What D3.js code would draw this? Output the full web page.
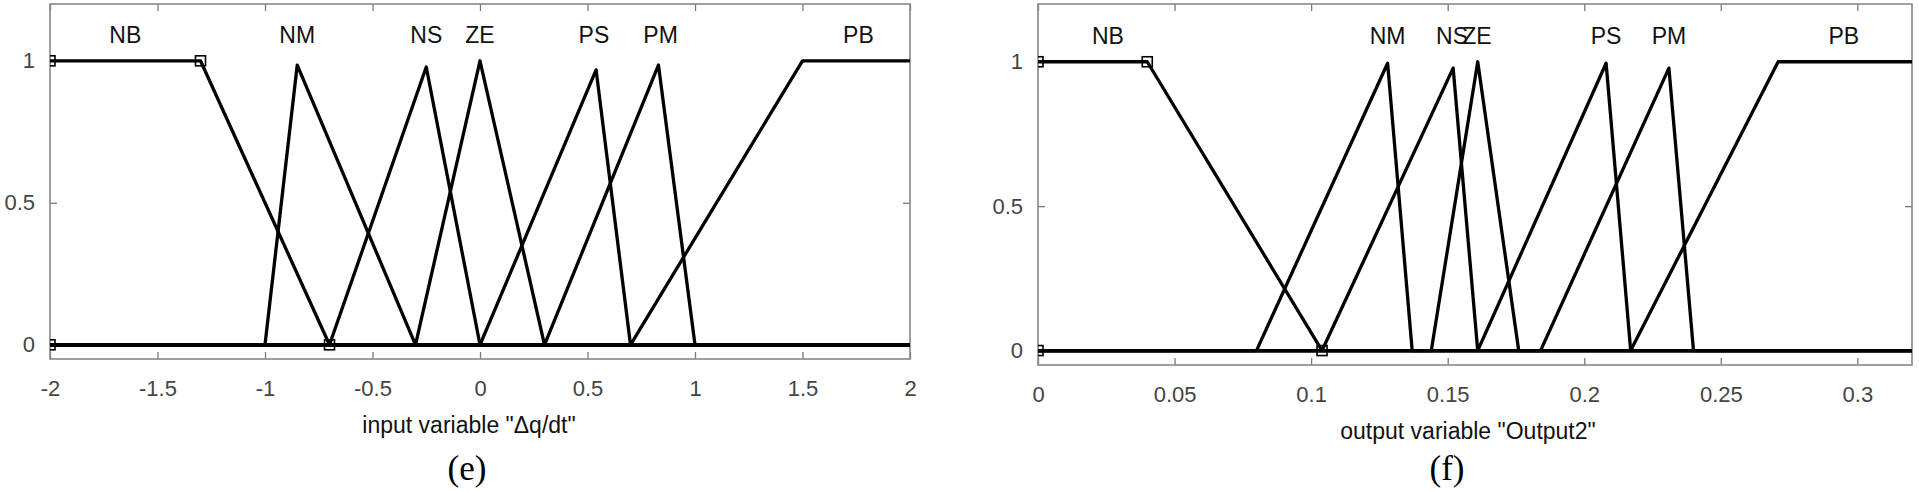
<!DOCTYPE html>
<html>
<head>
<meta charset="utf-8">
<script src="https://cdn.jsdelivr.net/npm/d3@7"></script>
<style>
  body { margin: 0; background: #fff; }
  svg { display: block; }
  .tick text { font-family: "Liberation Sans", Arial, sans-serif; font-size: 22px; fill: #444; }
  .tick line { stroke: #7a7a7a; stroke-width: 1.3; }
  .domain { display: none; }
  .frame { fill: none; stroke: #888; stroke-width: 1.6; }
  .mf { fill: none; stroke: #000; stroke-width: 3.3; stroke-linejoin: round; }
  .vertex { fill: none; stroke: #000; stroke-width: 1.6; }
  .mf-label { font-family: "Liberation Sans", Arial, sans-serif; font-size: 23px; fill: #111; text-anchor: middle; }
  .axis-title { font-family: "Liberation Sans", Arial, sans-serif; font-size: 23px; fill: #111; text-anchor: middle; }
  .caption { font-family: "Liberation Serif", "Times New Roman", serif; font-size: 35px; fill: #000; text-anchor: middle; }
</style>
</head>
<body>
<div id="chart"></div>
<script>

// Membership function names (same for both variables)
const mfNames = ["NB", "NM", "NS", "ZE", "PS", "PM", "PB"];

// (e) input variable "Δq/dt"
const inTicks = [-2, -1.5, -1, -0.5, 0, 0.5, 1, 1.5, 2];
const inTickLabels = ["-2", "-1.5", "-1", "-0.5", "0", "0.5", "1", "1.5", "2"];
const inParams = [
  [-2, -2, -1.3, -0.7],
  [-1, -0.85, -0.3],
  [-0.7, -0.25, 0],
  [-0.3, 0, 0.3],
  [0, 0.54, 0.7],
  [0.3, 0.83, 1],
  [0.7, 1.5, 2, 2]
];
const inPeaks = [1, 0.985, 0.978, 1, 0.968, 0.985, 1];
const inLabelX = [-1.65, -0.85, -0.25, 0, 0.53, 0.84, 1.76];

// (f) output variable "Output2"
const outTicks = [0, 0.05, 0.1, 0.15, 0.2, 0.25, 0.3];
const outTickLabels = ["0", "0.05", "0.1", "0.15", "0.2", "0.25", "0.3"];
const outParams = [
  [0, 0, 0.04, 0.104],
  [0.08, 0.128, 0.137],
  [0.104, 0.152, 0.161],
  [0.144, 0.161, 0.176],
  [0.161, 0.208, 0.217],
  [0.184, 0.231, 0.24],
  [0.217, 0.271, 0.32, 0.32]
];
const outPeaks = [1, 0.995, 0.978, 1, 0.995, 0.978, 1];
const outLabelX = [0.0256, 0.128, 0.1516, 0.1607, 0.208, 0.231, 0.295];

const yTicks = [0, 0.5, 1];
const yTickLabels = ["0", "0.5", "1"];

const svg = d3.select("#chart")
  .append("svg")
  .attr("width", 1919)
  .attr("height", 491);

// trapezoid (4 params) or triangle (3 params) with a peak height
function corners(p) {
  return p.length === 3 ? [p[0], p[1], p[1], p[2]] : p;
}

function mfValue(p, h, v) {
  const [a, b, c, d] = corners(p);
  if (v < a || v > d) return 0;
  if (v < b) return (v - a) / (b - a) * h;
  if (v <= c) return h;
  return (d - v) / (d - c) * h;
}

function drawPanel(opts) {
  const box = opts.box;

  const x = d3.scaleLinear()
    .domain(opts.xDomain)
    .range([box.left, box.right]);

  const y = d3.scaleLinear()
    .domain([-0.05, 1.2])
    .range([box.bottom, box.top]);

  const g = svg.append("g");

  g.append("clipPath")
    .attr("id", opts.id)
    .append("rect")
    .attr("x", box.left)
    .attr("y", box.top)
    .attr("width", box.right - box.left)
    .attr("height", box.bottom - box.top);

  // axes, ticks pointing inward
  g.append("g")
    .attr("transform", `translate(0,${box.bottom})`)
    .call(d3.axisBottom(x)
      .tickValues(opts.ticks)
      .tickFormat((d, i) => opts.tickLabels[i])
      .tickSizeInner(-7)
      .tickSizeOuter(0)
      .tickPadding(21));

  g.append("g")
    .attr("transform", `translate(0,${box.top})`)
    .call(d3.axisTop(x)
      .tickValues(opts.ticks)
      .tickFormat("")
      .tickSizeInner(-7)
      .tickSizeOuter(0));

  g.append("g")
    .attr("transform", `translate(${box.left},0)`)
    .call(d3.axisLeft(y)
      .tickValues(yTicks)
      .tickFormat((d, i) => yTickLabels[i])
      .tickSizeInner(-7)
      .tickSizeOuter(0)
      .tickPadding(15));

  g.append("g")
    .attr("transform", `translate(${box.right},0)`)
    .call(d3.axisRight(y)
      .tickValues(yTicks)
      .tickFormat("")
      .tickSizeInner(-7)
      .tickSizeOuter(0));

  g.append("rect")
    .attr("class", "frame")
    .attr("x", box.left)
    .attr("y", box.top)
    .attr("width", box.right - box.left)
    .attr("height", box.bottom - box.top);

  // membership functions
  const lo = opts.xDomain[0];
  const hi = opts.xDomain[1];
  const line = d3.line()
    .x(d => x(d[0]))
    .y(d => y(d[1]));

  const curves = g.append("g").attr("clip-path", `url(#${opts.id})`);

  opts.params.forEach((p, i) => {
    const h = opts.peaks[i];
    const xs = [lo, ...p.filter(v => v > lo && v < hi), hi];
    const pts = xs.map(v => [v, mfValue(p, h, v)]);
    curves.append("path")
      .attr("class", "mf")
      .attr("d", line(pts));
  });

  // selected MF (NB) vertices shown as squares
  const sel = corners(opts.params[0]);
  const selPts = [[sel[0], 0], [sel[1], opts.peaks[0]], [sel[2], opts.peaks[0]], [sel[3], 0]];
  curves.selectAll("rect.vertex")
    .data(selPts)
    .join("rect")
    .attr("class", "vertex")
    .attr("x", d => x(d[0]) - 5)
    .attr("y", d => y(d[1]) - 5)
    .attr("width", 10)
    .attr("height", 10);

  g.selectAll("text.mf-label")
    .data(mfNames)
    .join("text")
    .attr("class", "mf-label")
    .attr("x", (d, i) => x(opts.labelX[i]))
    .attr("y", y(1.09))
    .attr("dy", "0.35em")
    .text(d => d);

  g.append("text")
    .attr("class", "axis-title")
    .attr("x", opts.titleX)
    .attr("y", box.bottom + 66)
    .attr("dy", "0.35em")
    .text(opts.title);

  g.append("text")
    .attr("class", "caption")
    .attr("x", opts.captionX)
    .attr("y", 468)
    .attr("dy", "0.35em")
    .text(opts.caption);
}

drawPanel({
  id: "clip-e",
  box: { left: 50, right: 910, top: 4, bottom: 359 },
  xDomain: [-2, 2],
  ticks: inTicks,
  tickLabels: inTickLabels,
  params: inParams,
  peaks: inPeaks,
  labelX: inLabelX,
  title: "input variable \"\u0394q/dt\"",
  titleX: 469,
  caption: "(e)",
  captionX: 467
});

drawPanel({
  id: "clip-f",
  box: { left: 1038, right: 1912, top: 4, bottom: 365 },
  xDomain: [0, 0.32],
  ticks: outTicks,
  tickLabels: outTickLabels,
  params: outParams,
  peaks: outPeaks,
  labelX: outLabelX,
  title: "output variable \"Output2\"",
  titleX: 1468,
  caption: "(f)",
  captionX: 1447
});

</script>
</body>
</html>
